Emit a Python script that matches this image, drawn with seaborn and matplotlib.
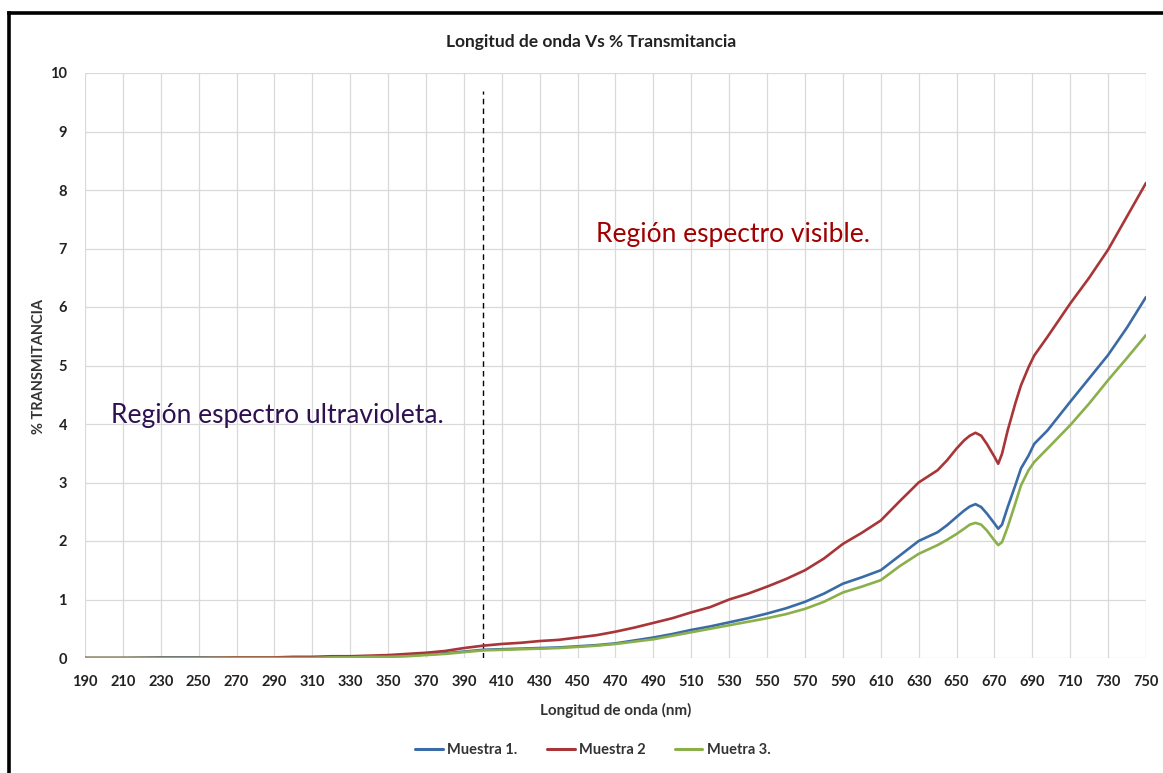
import matplotlib
matplotlib.use("Agg")
import matplotlib.pyplot as plt
from matplotlib.lines import Line2D
import pandas as pd
import seaborn as sns

# Wavelength (nm) and % transmittance of the three samples
wavelength = [190, 210, 230, 250, 270, 290, 300, 310, 320, 330, 340, 350, 360, 370,
              380, 390, 400, 410, 420, 430, 440, 450, 460, 470, 480, 490, 500, 510,
              520, 530, 540, 550, 560, 570, 580, 590, 600, 610, 620, 630, 640, 645,
              650, 654, 657, 660, 663, 666, 670, 672, 674, 677, 681, 684, 688, 691,
              698, 710, 720, 730, 740, 750]
muestra_1 = [0.0, 0.0, 0.01, 0.01, 0.0, 0.0, 0.01, 0.01, 0.01, 0.02, 0.02, 0.03, 0.04, 0.06,
             0.08, 0.11, 0.14, 0.15, 0.16, 0.17, 0.18, 0.20, 0.22, 0.25, 0.30, 0.35, 0.41, 0.48,
             0.54, 0.61, 0.68, 0.76, 0.85, 0.96, 1.10, 1.27, 1.38, 1.50, 1.75, 2.00, 2.15, 2.27,
             2.41, 2.52, 2.59, 2.63, 2.58, 2.47, 2.30, 2.21, 2.28, 2.58, 2.95, 3.24, 3.46, 3.66,
             3.89, 4.38, 4.78, 5.18, 5.65, 6.17]
muestra_2 = [0.0, 0.0, 0.0, 0.0, 0.01, 0.01, 0.02, 0.02, 0.03, 0.03, 0.04, 0.05, 0.07, 0.09,
             0.12, 0.17, 0.21, 0.24, 0.26, 0.29, 0.31, 0.35, 0.39, 0.45, 0.52, 0.60, 0.68, 0.78,
             0.87, 1.00, 1.10, 1.22, 1.35, 1.50, 1.70, 1.95, 2.14, 2.35, 2.68, 3.00, 3.21, 3.38,
             3.58, 3.72, 3.80, 3.85, 3.80, 3.66, 3.44, 3.32, 3.49, 3.89, 4.35, 4.66, 4.97, 5.17,
             5.49, 6.06, 6.50, 6.98, 7.55, 8.12]
muestra_3 = [0.0, 0.0, 0.0, 0.0, 0.0, 0.0, 0.0, 0.0, 0.01, 0.01, 0.02, 0.02, 0.03, 0.05,
             0.07, 0.10, 0.13, 0.14, 0.15, 0.16, 0.17, 0.19, 0.21, 0.24, 0.28, 0.32, 0.38, 0.44,
             0.50, 0.56, 0.62, 0.68, 0.75, 0.84, 0.96, 1.12, 1.22, 1.33, 1.57, 1.78, 1.93, 2.02,
             2.12, 2.21, 2.28, 2.31, 2.28, 2.18, 2.01, 1.93, 1.98, 2.24, 2.64, 2.95, 3.21, 3.35,
             3.58, 3.98, 4.35, 4.75, 5.13, 5.52]

series_names = ["Muestra 1.", "Muestra 2", "Muetra 3."]
series_colors = ["#3B6BA6", "#A83538", "#8BB04B"]
x_ticks = list(range(190, 751, 20))
y_ticks = list(range(0, 11))
divider_nm = 400

sns.set_theme(style="white")
plt.rcParams["font.family"] = ["Lato", "DejaVu Sans"]

df = pd.DataFrame({
    "Longitud": wavelength * 3,
    "T": muestra_1 + muestra_2 + muestra_3,
    "Serie": [series_names[0]] * len(wavelength)
             + [series_names[1]] * len(wavelength)
             + [series_names[2]] * len(wavelength),
})
palette = dict(zip(series_names, series_colors))

fig = plt.figure(figsize=(11.63, 7.73), dpi=100)
ax = fig.add_axes([85 / 1163, 1 - 658 / 773, (1146 - 85) / 1163, (658 - 73) / 773])

ax.vlines(divider_nm, 0, 9.7, colors="black", linestyles=(0, (4, 3)), linewidth=1.0, zorder=2)

sns.lineplot(data=df, x="Longitud", y="T", hue="Serie", hue_order=series_names,
             palette=palette, estimator=None, sort=False, linewidth=1.9,
             legend=False, ax=ax, zorder=3)
for ln in ax.get_lines():
    ln.set_solid_joinstyle("round")

ax.set_xlim(190, 750)
ax.set_ylim(0, 10)
ax.set_xticks(x_ticks)
ax.set_yticks(y_ticks)
ax.grid(True, color="#D9D9D9", linewidth=0.9)
for s in ax.spines.values():
    s.set_visible(False)
ax.tick_params(axis="both", length=0, labelsize=10.5, labelcolor="#222222")
ax.tick_params(axis="x", pad=12)
ax.tick_params(axis="y", pad=13)
for lbl in ax.get_xticklabels() + ax.get_yticklabels():
    lbl.set_fontweight("bold")

ax.set_xlabel("Longitud de onda (nm)", fontsize=11, fontweight="bold",
              color="#333333", labelpad=10)
ax.set_ylabel("")
fig.text(39 / 1163, 1 - 366 / 773, "% TRANSMITANCIA", rotation=90,
         ha="center", va="center", fontsize=10.5, fontweight="bold", color="#333333")

fig.text(591 / 1163, 1 - 42 / 773, "Longitud de onda Vs % Transmitancia",
         ha="center", va="center", fontsize=12.5, fontweight="bold", color="#222222")

ax.text(459.5, 7.11, "Región espectro visible.", ha="left", va="baseline",
        fontsize=19, color="#A00000", zorder=4)
ax.text(203.5, 4.02, "Región espectro ultravioleta.", ha="left", va="baseline",
        fontsize=19, color="#2E1050", zorder=4)

handles = [Line2D([], [], color=c, linewidth=2.2) for c in series_colors]
fig.legend(handles, series_names, loc="center", bbox_to_anchor=(593 / 1163, 1 - 750 / 773),
           ncol=3, frameon=False, handlelength=1.9, handletextpad=0.3, columnspacing=2.0,
           prop={"size": 10.5, "weight": "bold"}, labelcolor="#333333")

# frame around the chart
fig.add_artist(Line2D([8.5 / 1163, 8.5 / 1163], [0, 1 - 12.5 / 773],
                      transform=fig.transFigure, color="black", linewidth=2.6,
                      solid_capstyle="projecting"))
fig.add_artist(Line2D([8.5 / 1163, 1], [1 - 12.5 / 773, 1 - 12.5 / 773],
                      transform=fig.transFigure, color="black", linewidth=2.6,
                      solid_capstyle="projecting"))

fig.savefig("out.png", dpi=100, facecolor="white")
